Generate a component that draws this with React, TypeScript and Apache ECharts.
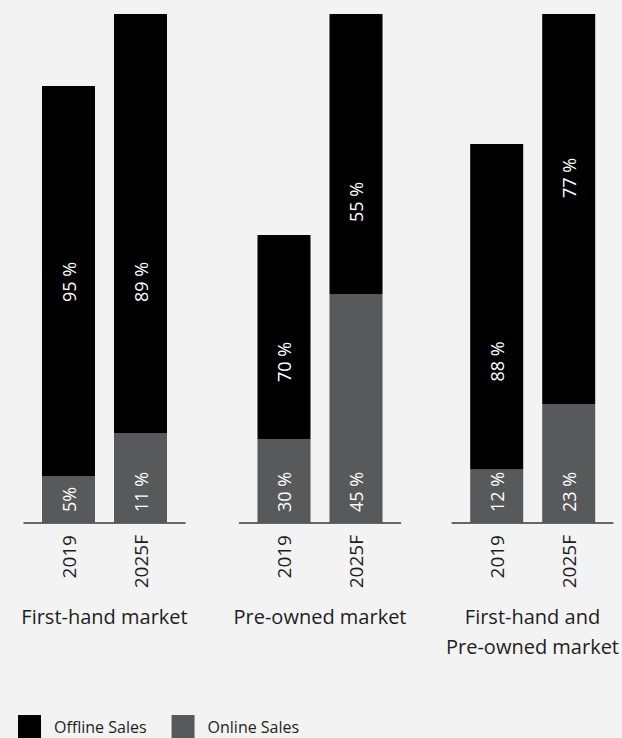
import React, { useEffect, useRef } from "react";
import * as echarts from "echarts";

// ---- data ----
const groups = ["First-hand market", "Pre-owned market", "First-hand and\nPre-owned market"];
const years = ["2019", "2025F"];
// bar segment heights (relative units, as drawn)
const onlineHeights = [
  [47, 90],
  [84, 229],
  [53.5, 119],
];
const offlineHeights = [
  [390, 419],
  [204, 280],
  [325.5, 390],
];
const onlineLabels = [
  ["5%", "11 %"],
  ["30 %", "45 %"],
  ["12 %", "23 %"],
];
const offlineLabels = [
  ["95 %", "89 %"],
  ["70 %", "55 %"],
  ["88 %", "77 %"],
];
const seriesNames = ["Offline Sales", "Online Sales"];

// ---- layout / style ----
const W = 622;
const H = 738;
const BG = "#f3f3f3";
const BLACK = "#000000";
const GREY = "#58595b";
const TEXT = "#1e1e1e";
const FONT = "'Open Sans', sans-serif";
const Y_MAX = 509;
const GRID_TOP = 14;
const GRID_BOTTOM = H - 523;
const barGridLefts = [32.5, 248, 460.7];
const BAR_GRID_W = 144;
const LINE_EXT = 8.5;
const offlineLabelDist = [
  [174, 131],
  [57, 72],
  [88, 206],
];
const ONLINE_LABEL_DIST = 11;

export default function App() {
  const ref = useRef<HTMLDivElement>(null);

  useEffect(() => {
    if (!ref.current) return;
    const chart = echarts.init(ref.current, null, { renderer: "svg" });

    const grid: any[] = [];
    const xAxis: any[] = [];
    const yAxis: any[] = [];
    const series: any[] = [];

    groups.forEach((g, gi) => {
      // bar grid
      grid.push({
        left: barGridLefts[gi],
        width: BAR_GRID_W,
        top: GRID_TOP,
        bottom: GRID_BOTTOM,
      });
      const barIdx = grid.length - 1;
      xAxis.push({
        type: "category",
        gridIndex: barIdx,
        data: years,
        axisLine: { show: false },
        axisTick: { show: false },
        axisLabel: {
          rotate: 90,
          margin: 12,
          fontSize: 19,
          color: TEXT,
          fontFamily: FONT,
        },
      });
      yAxis.push({ type: "value", gridIndex: barIdx, min: 0, max: Y_MAX, show: false });

      // baseline grid (slightly wider than the bar grid)
      grid.push({
        left: barGridLefts[gi] - LINE_EXT,
        width: BAR_GRID_W + 2 * LINE_EXT,
        top: GRID_TOP,
        bottom: GRID_BOTTOM,
      });
      const lineIdx = grid.length - 1;
      xAxis.push({
        type: "value",
        gridIndex: lineIdx,
        min: 0,
        max: 1,
        axisLine: { show: true, onZero: false, lineStyle: { color: "#3a3a3a", width: 1.5 } },
        axisTick: { show: false },
        axisLabel: { show: false },
        splitLine: { show: false },
        name: g,
        nameLocation: "middle",
        nameGap: 78,
        nameTextStyle: {
          fontSize: 20,
          color: TEXT,
          fontFamily: FONT,
          lineHeight: 30,
          verticalAlign: "top",
          align: "center",
        },
      });
      yAxis.push({ type: "value", gridIndex: lineIdx, min: 0, max: 1, show: false });

      series.push({
        name: seriesNames[1],
        type: "bar",
        xAxisIndex: barIdx,
        yAxisIndex: barIdx,
        stack: "s" + gi,
        barWidth: 53,
        itemStyle: { color: GREY },
        data: onlineHeights[gi],
        label: {
          show: true,
          position: "insideBottom",
          distance: ONLINE_LABEL_DIST,
          rotate: 90,
          align: "left",
          verticalAlign: "middle",
          color: "#ffffff",
          fontSize: 18,
          fontFamily: FONT,
          formatter: (p: any) => onlineLabels[gi][p.dataIndex],
        },
      });
      series.push({
        name: seriesNames[0],
        type: "bar",
        xAxisIndex: barIdx,
        yAxisIndex: barIdx,
        stack: "s" + gi,
        barWidth: 53,
        itemStyle: { color: BLACK },
        data: offlineHeights[gi].map((v, i) => ({
          value: v,
          label: { distance: offlineLabelDist[gi][i] },
        })),
        label: {
          show: true,
          position: "insideBottom",
          rotate: 90,
          align: "left",
          verticalAlign: "middle",
          color: "#ffffff",
          fontSize: 18,
          fontFamily: FONT,
          formatter: (p: any) => offlineLabels[gi][p.dataIndex],
        },
      });
    });

    chart.setOption({
      animation: false,
      backgroundColor: BG,
      textStyle: { fontFamily: FONT },
      legend: {
        data: seriesNames,
        left: 18,
        top: 715,
        padding: 0,
        orient: "horizontal",
        icon: "rect",
        itemWidth: 23,
        itemHeight: 23,
        itemGap: 25,
        textStyle: { fontSize: 16, color: TEXT, fontFamily: FONT, padding: [0, 0, 0, 8] },
      },
      grid,
      xAxis,
      yAxis,
      series,
    });

    return () => chart.dispose();
  }, []);

  return (
    <div
      ref={ref}
      style={{ position: "absolute", left: 0, top: 0, width: W, height: H, background: BG }}
    />
  );
}
